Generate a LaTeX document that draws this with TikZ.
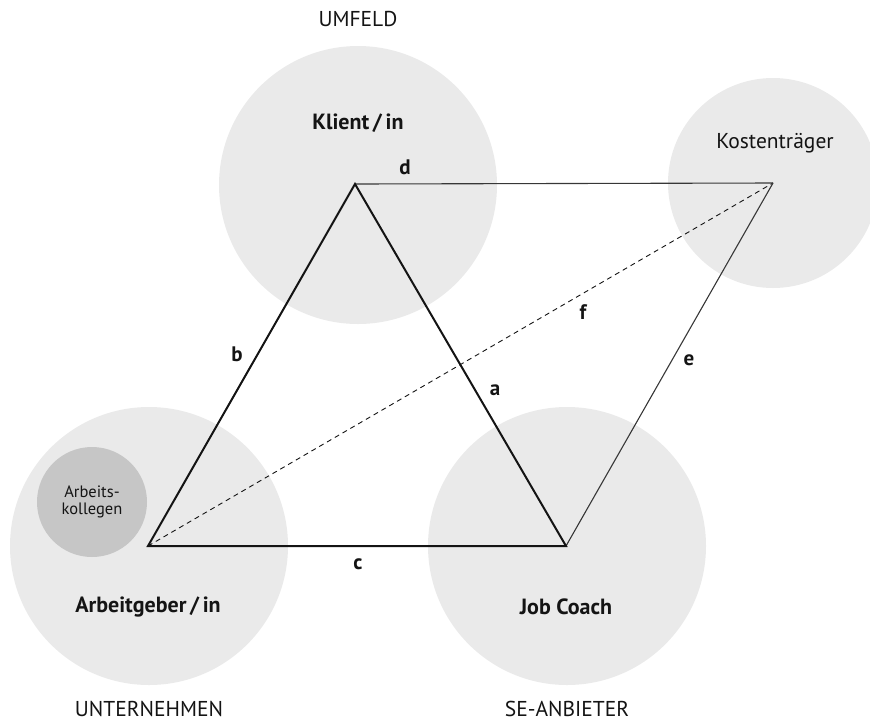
\documentclass[tikz,border=0pt]{standalone}
\usepackage{fontspec}
\setmainfont{PT Sans}
\definecolor{bigfill}{RGB}{234,234,234}
\definecolor{smallfill}{RGB}{198,198,198}
\definecolor{ink}{RGB}{20,20,20}
\begin{document}
\begin{tikzpicture}[x=1pt,y=-1pt,
  bigcircle/.style={circle, fill=bigfill, minimum size=278pt, inner sep=0pt},
  smallcircle/.style={circle, fill=smallfill, minimum size=110pt, inner sep=0pt, align=center, text=ink,
     font=\fontsize{16.5}{17}\selectfont},
  rolelabel/.style={text=ink, font=\fontsize{22}{26}\selectfont\bfseries, inner sep=0pt},
  arealabel/.style={text=ink, font=\fontsize{21.5}{25}\selectfont, inner sep=0pt},
  edgelabel/.style={text=ink, font=\fontsize{21}{25}\selectfont\bfseries, inner sep=0pt},
  strongline/.style={line width=2pt, draw=ink, line join=miter},
  weakline/.style={line width=1.1pt, draw=ink!85},
  dashline/.style={line width=0.9pt, draw=ink, dash pattern=on 5pt off 4pt}]
\useasboundingbox (0,0) rectangle (870,724);
\clip (0,0) rectangle (870,724);
% circles
\node[bigcircle] (klientc) at (358,185) {};
\node[bigcircle, minimum size=210pt] (kostc) at (773,183) {};
\node[bigcircle] (agc) at (149,546) {};
\node[bigcircle] (jcc) at (567,546) {};
\node[smallcircle] (kolc) at (92,502) {Arbeits-\\kollegen};
% vertices
\coordinate (K) at (355,184);
\coordinate (A) at (148,546);
\coordinate (J) at (566,546);
\coordinate (T) at (773,183);
% connectors
\draw[dashline] (A) -- (T);
\draw[weakline] (K) -- (T);
\draw[weakline] (T) -- (J);
\draw[strongline] (K) -- (A) -- (J) -- cycle;
% role labels
\node[rolelabel] (klient) at (358,123) {Klient\,/\,in};
\node[arealabel] (kosten) at (775,143) {Kostenträger};
\node[rolelabel] (ag) at (148,607) {Arbeitgeber\,/\,in};
\node[rolelabel] (jc) at (566,607) {Job Coach};
% area labels
\node[arealabel] (umfeld) at (358,19) {UMFELD};
\node[arealabel] (untern) at (149,709) {UNTERNEHMEN};
\node[arealabel] (sean) at (567,709) {SE-ANBIETER};
% edge labels
\node[edgelabel] (la) at (495,390) {a};
\node[edgelabel] (lb) at (237,354) {b};
\node[edgelabel] (lc) at (358,564) {c};
\node[edgelabel] (ld) at (405,167) {d};
\node[edgelabel] (le) at (689,360) {e};
\node[edgelabel] (lf) at (583,312) {f};
\end{tikzpicture}
\end{document}
